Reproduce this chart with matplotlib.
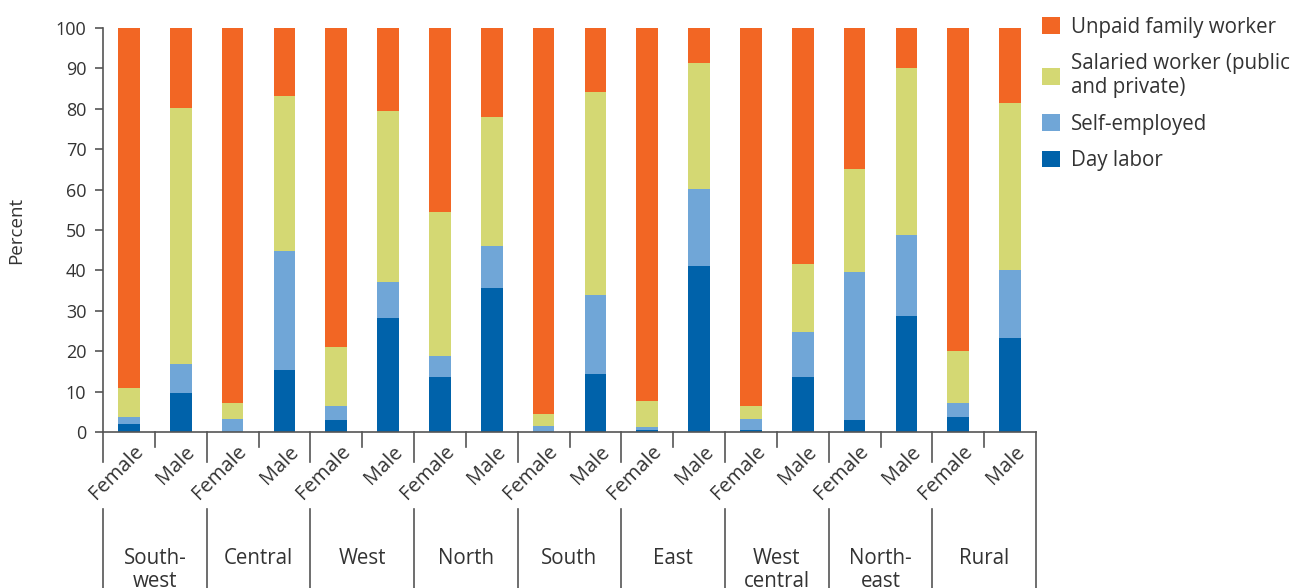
import numpy as np
import matplotlib.pyplot as plt
from matplotlib.patches import Patch

plt.rcParams['font.family'] = ['Open Sans', 'DejaVu Sans']

# ---------------------------
# Data (percent shares)
# ---------------------------
regions = ['South-\nwest', 'Central', 'West', 'North', 'South', 'East',
           'West\ncentral', 'North-\neast', 'Rural']
sexes = ['Female', 'Male']

day_labor = [2.0, 9.6, 0.0, 15.3, 3.0, 28.2, 13.6, 35.6, 0.0, 14.3,
             0.5, 41.1, 0.5, 13.6, 3.0, 28.7, 3.7, 23.3]
self_employed = [1.8, 7.2, 3.2, 29.5, 3.4, 8.9, 5.2, 10.4, 1.5, 19.6,
                 0.7, 19.0, 2.7, 11.1, 36.6, 20.1, 3.5, 16.8]
salaried = [7.1, 63.4, 4.0, 38.4, 14.6, 42.4, 35.7, 31.9, 3.0, 50.3,
            6.4, 31.2, 3.2, 16.9, 25.5, 41.3, 12.8, 41.3]
unpaid = [100 - a - b - c for a, b, c in zip(day_labor, self_employed, salaried)]

series = [
    ('Day labor', day_labor, '#0062AA'),
    ('Self-employed', self_employed, '#70A6D7'),
    ('Salaried worker (public\nand private)', salaried, '#D4D873'),
    ('Unpaid family worker', unpaid, '#F26624'),
]

text_color = '#333333'
axis_color = '#555555'

fig = plt.figure(figsize=(12.9, 5.88), dpi=100)
ax = fig.add_axes([103 / 1290, 1 - 432 / 588, (1036 - 103) / 1290, (432 - 28) / 588])

x = np.arange(len(day_labor))
bottom = np.zeros(len(x))
for name, vals, col in series:
    ax.bar(x, vals, width=0.42, bottom=bottom, color=col, label=name, zorder=2)
    bottom += np.array(vals)

ax.set_xlim(-0.5, len(x) - 0.5)
ax.set_ylim(0, 100)
ax.set_yticks(range(0, 101, 10))
ax.tick_params(axis='y', labelsize=13, colors=text_color, length=6, width=1.2,
               color=axis_color, pad=6)
ax.set_ylabel('Percent', fontsize=13.5, color=text_color, labelpad=22)

for s in ['top', 'right']:
    ax.spines[s].set_visible(False)
for s in ['left', 'bottom']:
    ax.spines[s].set_color(axis_color)
    ax.spines[s].set_linewidth(1.2)

# sex labels under each bar
ax.set_xticks(x + 0.08)
ax.set_xticklabels(sexes * len(regions), rotation=45, ha='right',
                   rotation_mode='anchor', fontsize=14.5, color=text_color)
ax.tick_params(axis='x', length=0, pad=7)

# short ticks between Female and Male
trans = ax.get_xaxis_transform()
px = 1 / 404  # one pixel in axes-height units
for i in range(len(regions)):
    xb = 2 * i + 0.5
    ax.plot([xb, xb], [0, -15 * px], color=axis_color, lw=1.2,
            transform=trans, clip_on=False)

# long separators between regions
for i in range(len(regions) + 1):
    xb = 2 * i - 0.5
    if i < len(regions):
        ax.plot([xb, xb], [0, -30 * px], color=axis_color, lw=1.2,
                transform=trans, clip_on=False)
        ax.plot([xb, xb], [-77 * px, -160 * px], color=axis_color, lw=1.2,
                transform=trans, clip_on=False)
    else:
        ax.plot([xb, xb], [0, -160 * px], color=axis_color, lw=1.2,
                transform=trans, clip_on=False)

# region labels
for i, r in enumerate(regions):
    ax.text(2 * i + 0.5, -116 * px, r, transform=trans, ha='center', va='top',
            fontsize=14.8, color=text_color, linespacing=1.15)

handles = [Patch(facecolor=col, label=name) for name, vals, col in series][::-1]
fig.legend(handles=handles, loc='upper left', bbox_to_anchor=(1028 / 1290, 0.996),
           frameon=False, fontsize=14.8, handlelength=0.85, handleheight=0.85,
           handletextpad=0.55, labelspacing=0.75, labelcolor=text_color,
           borderaxespad=0.3)

fig.savefig('out.png', dpi=100)
